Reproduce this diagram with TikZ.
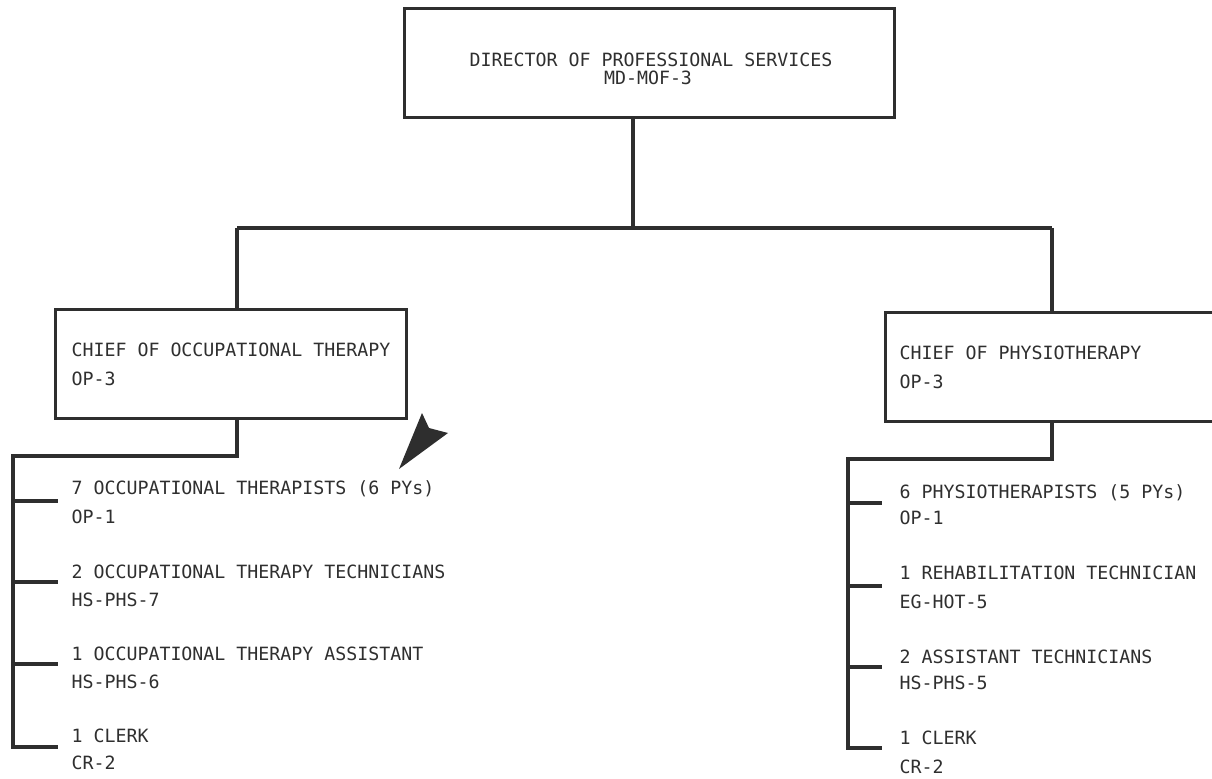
\documentclass[tikz,border=0pt]{standalone}
\usepackage{fontspec}
\newfontfamily\tw{DejaVu Sans Mono}
\definecolor{ink}{HTML}{2E2E2E}
\definecolor{txt}{HTML}{2F2F2F}
\begin{document}
\begin{tikzpicture}[x=0.75pt,y=-0.75pt,
  line width=2.3pt, ink, line join=miter,
  box/.style={draw=ink, rectangle, inner sep=0pt, anchor=north west},
  lbl/.style={anchor=base west, inner sep=0pt, text=txt, font=\tw\fontsize{13.7}{15}\selectfont},
  clbl/.style={anchor=base, inner sep=0pt, text=txt, font=\tw\fontsize{13.7}{15}\selectfont}]
\useasboundingbox (0,0) rectangle (1212,778);
\clip (0,0) rectangle (1212,778);
\fill[white] (0,0) rectangle (1212,778);

% boxes
\node[box, minimum width=367.5pt, minimum height=81.75pt] (top) at (403,7) {};
\node[box, minimum width=263.25pt, minimum height=81.75pt] (ot) at (54,308) {};
\node[box, minimum width=270pt, minimum height=81.75pt] (pt) at (884,311) {};

% box texts
\node[clbl] (t1) at (651,66.5) {DIRECTOR OF PROFESSIONAL SERVICES};
\node[clbl] (t2) at (648,84.5) {MD-MOF-3};
\node[lbl] (ot1) at (70,356.5) {CHIEF OF OCCUPATIONAL THERAPY};
\node[lbl] (ot2) at (70,385.5) {OP-3};
\node[lbl] (pt1) at (898,359.5) {CHIEF OF PHYSIOTHERAPY};
\node[lbl] (pt2) at (898,388.5) {OP-3};

% top connectors
\coordinate (bar) at (633,228);
\coordinate (barL) at (237,228);
\coordinate (barR) at (1052,228);
\draw (top.south -| bar) -- (bar);
\draw (barL) -- (barR);
\draw (barL) -- (barL |- ot.north);
\draw (barR) -- (barR |- pt.north);

% OT list
\node[lbl] (a1) at (70,494.5) {7 OCCUPATIONAL THERAPISTS (6 PYs)};
\node[lbl] (a1g) at (70,523.5) {OP-1};
\node[lbl] (a2) at (70,578.5) {2 OCCUPATIONAL THERAPY TECHNICIANS};
\node[lbl] (a2g) at (70,606.5) {HS-PHS-7};
\node[lbl] (a3) at (70,660.5) {1 OCCUPATIONAL THERAPY ASSISTANT};
\node[lbl] (a3g) at (70,688.5) {HS-PHS-6};
\node[lbl] (a4) at (70,742.5) {1 CLERK};
\node[lbl] (a4g) at (70,769.5) {CR-2};

\coordinate (otc) at (237,456);
\coordinate (otb) at (13,456);
\coordinate (ota1) at (13,501); \coordinate (otb1) at (58,501);
\coordinate (ota2) at (13,582); \coordinate (otb2) at (58,582);
\coordinate (ota3) at (13,664); \coordinate (otb3) at (58,664);
\coordinate (ota4) at (13,747); \coordinate (otb4) at (58,747);
\draw (ot.south -| otc) -- (otc) -- (otb) -- (ota4) -- (otb4);
\draw (ota1) -- (otb1);
\draw (ota2) -- (otb2);
\draw (ota3) -- (otb3);

% PT list
\node[lbl] (b1) at (898,498.5) {6 PHYSIOTHERAPISTS (5 PYs)};
\node[lbl] (b1g) at (898,524.5) {OP-1};
\node[lbl] (b2) at (898,579.5) {1 REHABILITATION TECHNICIAN};
\node[lbl] (b2g) at (898,608.5) {EG-HOT-5};
\node[lbl] (b3) at (898,663.5) {2 ASSISTANT TECHNICIANS};
\node[lbl] (b3g) at (898,689.5) {HS-PHS-5};
\node[lbl] (b4) at (898,744.5) {1 CLERK};
\node[lbl] (b4g) at (898,773.5) {CR-2};

\coordinate (ptc) at (1052,459);
\coordinate (ptb) at (848,459);
\coordinate (pta1) at (848,503); \coordinate (ptb1) at (882,503);
\coordinate (pta2) at (848,586); \coordinate (ptb2) at (882,586);
\coordinate (pta3) at (848,667); \coordinate (ptb3) at (882,667);
\coordinate (pta4) at (848,748); \coordinate (ptb4) at (882,748);
\draw (pt.south -| ptc) -- (ptc) -- (ptb) -- (pta4) -- (ptb4);
\draw (pta1) -- (ptb1);
\draw (pta2) -- (ptb2);
\draw (pta3) -- (ptb3);

% pointer arrowhead
\fill[ink] (399,469) -- (422,413) -- (429,428) -- (448,433) -- cycle;
\end{tikzpicture}
\end{document}
